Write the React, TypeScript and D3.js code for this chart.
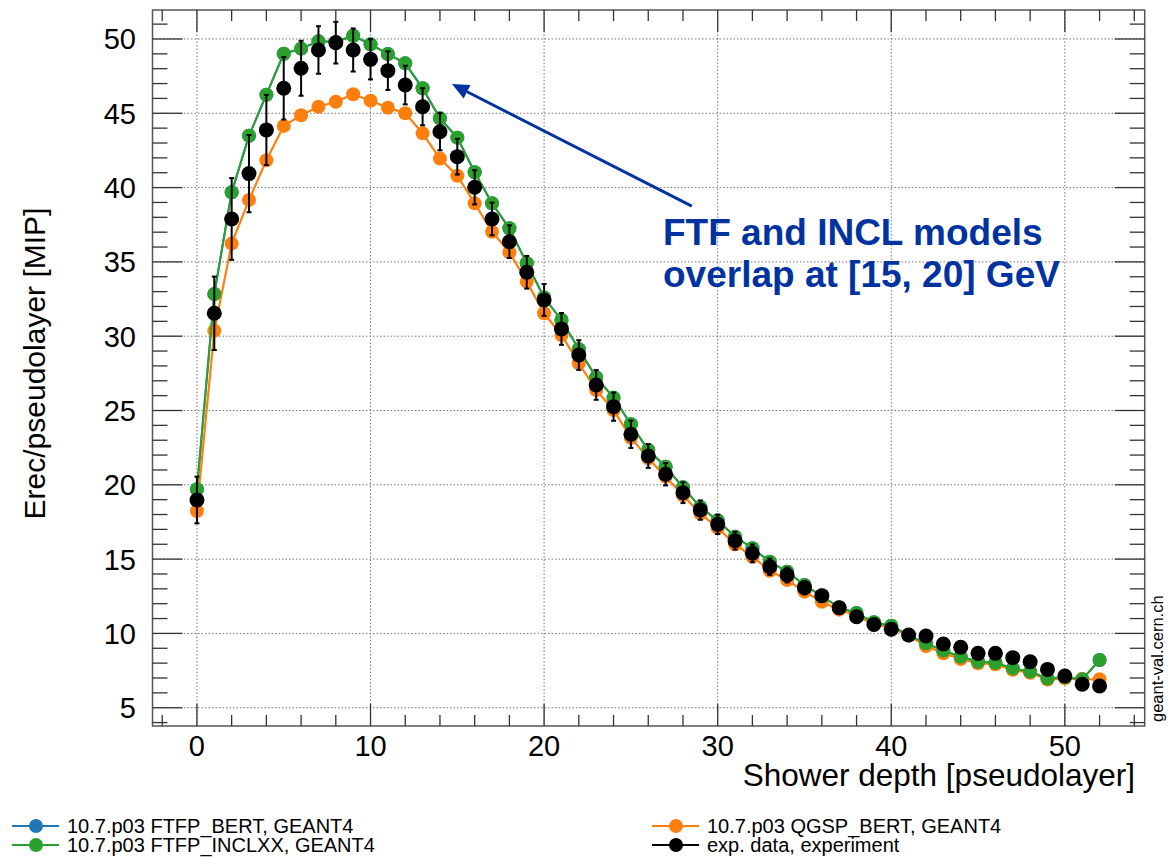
import React from "react";
import * as d3 from "d3";

const layers = [0,1,2,3,4,5,6,7,8,9,10,11,12,13,14,15,16,17,18,19,20,21,22,23,24,25,26,27,28,29,30,31,32,33,34,35,36,37,38,39,40,41,42,43,44,45,46,47,48,49,50,51,52];

// 10.7.p03 FTFP_INCLXX (green)
const inclxx = [19.70,32.84,39.68,43.49,46.25,49.01,49.35,49.84,49.80,50.22,49.64,48.99,48.36,46.68,44.66,43.36,41.03,38.94,37.26,34.91,32.60,31.09,29.12,27.23,25.86,24.07,22.34,21.22,19.83,18.50,17.60,16.50,15.73,14.83,14.15,13.26,12.50,11.75,11.37,10.75,10.52,9.87,9.33,8.84,8.43,8.09,8.03,7.65,7.43,6.97,7.05,6.91,8.21];

// 10.7.p03 FTFP_BERT (blue) — hidden below the green series
const ftfpBert = [19.70,32.84,39.68,43.49,46.25,49.01,49.35,49.84,49.80,50.22,49.64,48.99,48.36,46.68,44.66,43.36,41.03,38.94,37.26,34.91,32.60,31.09,29.12,27.23,25.86,24.07,22.34,21.22,19.83,18.50,17.60,16.50,15.73,14.83,14.15,13.26,12.50,11.75,11.37,10.75,10.52,9.87,9.33,8.84,8.43,8.09,8.03,7.65,7.43,6.97,7.05,6.91,8.21];

// 10.7.p03 QGSP_BERT (orange)
const qgspBert = [18.24,30.37,36.23,39.17,41.84,44.15,44.87,45.44,45.78,46.28,45.85,45.38,45.00,43.65,41.95,40.80,38.94,37.03,35.65,33.67,31.54,30.08,28.18,26.38,25.03,23.17,21.78,20.55,19.30,18.07,17.10,16.00,15.16,14.22,13.59,12.81,12.13,11.60,11.20,10.60,10.40,9.85,9.15,8.66,8.28,7.99,7.93,7.55,7.35,6.90,6.98,6.93,6.91];

// exp. data
const expData = [18.98,31.54,37.89,40.94,43.88,46.68,48.03,49.26,49.75,49.26,48.63,47.87,46.90,45.44,43.76,42.08,40.02,37.89,36.36,34.30,32.44,30.49,28.73,26.72,25.26,23.40,21.94,20.71,19.47,18.30,17.34,16.24,15.39,14.49,13.93,13.08,12.54,11.73,11.12,10.60,10.28,9.89,9.83,9.29,9.07,8.66,8.66,8.37,8.09,7.58,7.13,6.58,6.46];
const expErr = [1.57,2.47,2.75,2.60,2.36,2.10,1.85,1.60,1.40,1.45,1.35,1.30,1.30,1.25,1.25,1.20,1.15,1.10,1.10,1.10,1.07,1.07,1.00,1.00,0.95,0.92,0.80,0.75,0.70,0.65,0.65,0.60,0.60,0.55,0.50,0.45,0.40,0.35,0.30,0.30,0.25,0.25,0.25,0.20,0.20,0.20,0.20,0.20,0.20,0.20,0.20,0.20,0.20];

const xMajorTicks = [0, 10, 20, 30, 40, 50];
const xMinorTicks = [-2,0,2,4,6,8,10,12,14,16,18,20,22,24,26,28,30,32,34,36,38,40,42,44,46,48,50,52,54];
const yMajorTicks = [5, 10, 15, 20, 25, 30, 35, 40, 45, 50];
const yMinorTicks = [4,5,6,7,8,9,10,11,12,13,14,15,16,17,18,19,20,21,22,23,24,25,26,27,28,29,30,31,32,33,34,35,36,37,38,39,40,41,42,43,44,45,46,47,48,49,50,51];

const legendItems = [
  { label: "10.7.p03 FTFP_BERT, GEANT4", color: "#1f77b4" },
  { label: "10.7.p03 QGSP_BERT, GEANT4", color: "#ff7f0e" },
  { label: "10.7.p03 FTFP_INCLXX, GEANT4", color: "#2ca02c" },
  { label: "exp. data, experiment", color: "#000000" },
];

const W = 1176, H = 858;
const left = 152.5, right = 1144.7, top = 10, bottom = 726;
const FONT = "'Liberation Sans', Arial, Helvetica, sans-serif";
const ANNOT = "#0033a0";

export default function App() {
  const x = d3.scaleLinear().domain([-2.56, 54.6]).range([left, right]);
  const y = d3.scaleLinear().domain([3.77, 51.95]).range([bottom, top]);

  const line = d3.line<number>().x((_, i) => x(layers[i])).y((d) => y(d));

  const series = [
    { vals: ftfpBert, color: "#1f77b4", r: 7, lw: 2 },
    { vals: qgspBert, color: "#ff7f0e", r: 7, lw: 2.2 },
    { vals: inclxx, color: "#2ca02c", r: 7, lw: 2 },
  ];

  // annotation arrow in data coordinates
  const tail = [28.51, 38.75];
  const tip = [14.69, 46.97];
  const tx = x(tip[0]), ty = y(tip[1]);
  const sx = x(tail[0]), sy = y(tail[1]);
  const ang = Math.atan2(ty - sy, tx - sx);
  const headL = 17, headW = 7.5;
  const bx = tx - headL * Math.cos(ang), by = ty - headL * Math.sin(ang);
  const head = [
    [tx, ty],
    [bx + headW * Math.sin(ang), by - headW * Math.cos(ang)],
    [bx - headW * Math.sin(ang), by + headW * Math.cos(ang)],
  ];

  const tickColor = "#333";

  return (
    <svg width={W} height={H} style={{ position: "absolute", left: 0, top: 0, background: "#fff" }} fontFamily={FONT}>
      <rect x={0} y={0} width={W} height={H} fill="#fff" />
      {/* grid */}
      <g stroke="#777" strokeWidth={1} strokeDasharray="1.5,2">
        {xMajorTicks.map((t) => (
          <line key={"gx" + t} x1={x(t)} x2={x(t)} y1={top} y2={bottom} />
        ))}
        {yMajorTicks.map((t) => (
          <line key={"gy" + t} x1={left} x2={right} y1={y(t)} y2={y(t)} />
        ))}
      </g>

      {/* series */}
      {series.map((s, si) => (
        <g key={"s" + si}>
          <path d={line(s.vals) || ""} fill="none" stroke={s.color} strokeWidth={s.lw} />
          {s.vals.map((v, i) => (
            <circle key={i} cx={x(layers[i])} cy={y(v)} r={s.r} fill={s.color} />
          ))}
        </g>
      ))}

      {/* exp data */}
      <g>
        {expData.map((v, i) => {
          const cx = x(layers[i]);
          const y1 = y(v + expErr[i]);
          const y2 = y(v - expErr[i]);
          return (
            <g key={"e" + i}>
              <circle cx={cx} cy={y(v)} r={7.5} fill="#000" />
              <line x1={cx} x2={cx} y1={y1} y2={y2} stroke="#000" strokeWidth={2} />
              <line x1={cx - 2.5} x2={cx + 2.5} y1={y1} y2={y1} stroke="#000" strokeWidth={2} />
              <line x1={cx - 2.5} x2={cx + 2.5} y1={y2} y2={y2} stroke="#000" strokeWidth={2} />
            </g>
          );
        })}
      </g>

      {/* frame */}
      <rect x={left} y={top} width={right - left} height={bottom - top} fill="none" stroke="#555" strokeWidth={1.5} />

      {/* ticks */}
      <g stroke={tickColor} strokeWidth={1.3}>
        {xMinorTicks.map((t) => {
          const major = xMajorTicks.includes(t);
          const L = major ? 22 : 11;
          return (
            <g key={"xt" + t}>
              <line x1={x(t)} x2={x(t)} y1={bottom} y2={bottom - L} />
              <line x1={x(t)} x2={x(t)} y1={top} y2={top + L} />
            </g>
          );
        })}
        {yMinorTicks.map((t) => {
          const major = yMajorTicks.includes(t);
          const L = major ? 30 : 15;
          return (
            <g key={"yt" + t}>
              <line x1={left} x2={left + L} y1={y(t)} y2={y(t)} />
              <line x1={right} x2={right - L} y1={y(t)} y2={y(t)} />
            </g>
          );
        })}
      </g>

      {/* tick labels */}
      <g fontSize={29} fill="#000">
        {xMajorTicks.map((t) => (
          <text key={"xl" + t} x={x(t)} y={756} textAnchor="middle">{t}</text>
        ))}
        {yMajorTicks.map((t) => (
          <text key={"yl" + t} x={136} y={y(t)} dy="0.36em" textAnchor="end">{t}</text>
        ))}
      </g>

      {/* axis titles */}
      <text x={1135} y={786} fontSize={31.5} textAnchor="end" fill="#000">Shower depth [pseudolayer]</text>
      <text transform={`translate(45,${(207 + 520) / 2}) rotate(-90)`} fontSize={30} textAnchor="middle" fill="#000">Erec/pseudolayer [MIP]</text>

      {/* watermark */}
      <text transform="translate(1163,722) rotate(-90)" fontSize={16.5} fill="#000">geant-val.cern.ch</text>

      {/* annotation */}
      <line x1={sx} y1={sy} x2={bx} y2={by} stroke={ANNOT} strokeWidth={3} />
      <polygon points={head.map((p) => p.join(",")).join(" ")} fill={ANNOT} />
      <text x={663} y={245} fontSize={37} fontWeight="bold" fill={ANNOT}>FTF and INCL models</text>
      <text x={663} y={287} fontSize={37} fontWeight="bold" fill={ANNOT}>overlap at [15, 20] GeV</text>

      {/* legend */}
      {legendItems.map((it, i) => {
        const col = i % 2;
        const row = Math.floor(i / 2);
        const lx = col === 0 ? 12 : 652;
        const cy = 826 + row * 19;
        return (
          <g key={"lg" + i}>
            <line x1={lx} x2={lx + 47} y1={cy} y2={cy} stroke={it.color} strokeWidth={2} />
            <circle cx={lx + 24} cy={cy} r={7} fill={it.color} />
            <text x={lx + 55} y={cy} dy="0.36em" fontSize={20} fill="#000">{it.label}</text>
          </g>
        );
      })}
    </svg>
  );
}
